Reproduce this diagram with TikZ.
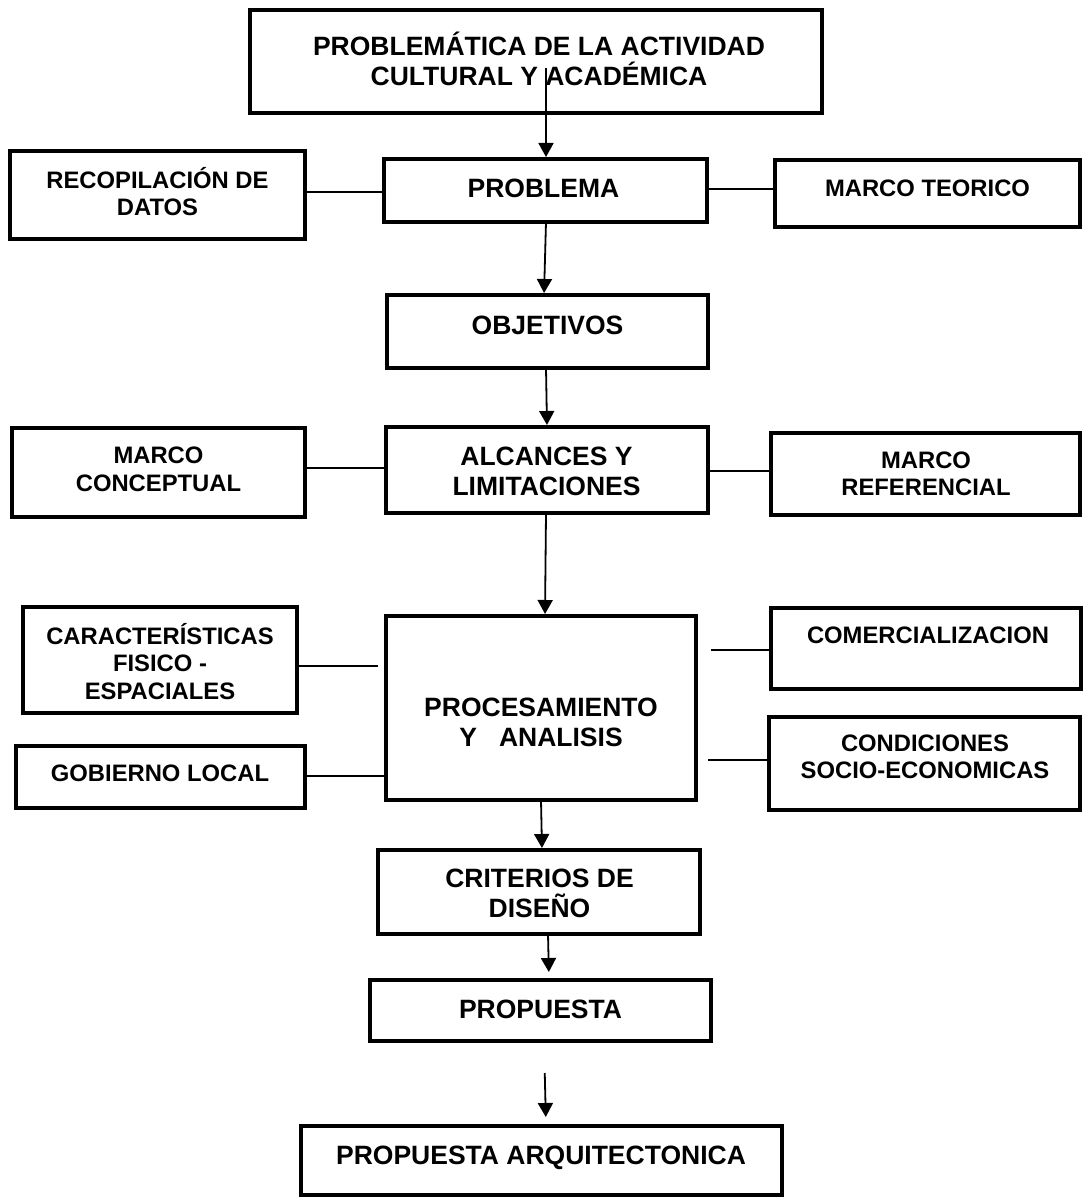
\documentclass[tikz,border=0pt]{standalone}
\usepackage{fontspec}
\setmainfont{Liberation Sans}
\usetikzlibrary{arrows.meta}

\tikzset{
  box/.style={draw, line width=4.3pt, inner sep=0pt, outer sep=0pt, line join=miter},
  bigtxt/.style={font=\fontsize{26.5}{30}\selectfont\bfseries, align=center, inner sep=0pt},
  smalltxt/.style={font=\fontsize{23.8}{27.5}\selectfont\bfseries, align=center, inner sep=0pt},
  arr/.style={line width=1.8pt, -{Triangle[width=15pt,length=14pt]}},
  link/.style={line width=1.8pt},
}

\begin{document}
\begin{tikzpicture}[x=1pt, y=-1pt]
  \lineskiplimit=-40pt
  \lineskip=0pt
  \fill[white] (0,0) rectangle (1083,1198);
  \useasboundingbox (0,0) rectangle (1083,1198);

  % frames
  \node[box, minimum width=572pt, minimum height=103pt] (top)  at (536,61.5)   {};
  \node[box, minimum width=295pt, minimum height=88pt]  (recop) at (157.5,195) {};
  \node[box, minimum width=323pt, minimum height=63pt]  (prob) at (545.5,190.5) {};
  \node[box, minimum width=305pt, minimum height=67pt]  (mteo) at (927.5,193.5) {};
  \node[box, minimum width=321pt, minimum height=73pt]  (obj)  at (547.5,331.5) {};
  \node[box, minimum width=293pt, minimum height=89pt]  (mcon) at (158.5,472.5) {};
  \node[box, minimum width=322pt, minimum height=86pt]  (alc)  at (547,470)     {};
  \node[box, minimum width=309pt, minimum height=82pt]  (mref) at (925.5,474)   {};
  \node[box, minimum width=274pt, minimum height=106pt] (cara) at (160,660)     {};
  \node[box, minimum width=310pt, minimum height=184pt] (proc) at (541,708)     {};
  \node[box, minimum width=289pt, minimum height=62pt]  (gob)  at (160.5,777)   {};
  \node[box, minimum width=310pt, minimum height=81pt]  (com)  at (926,648.5)   {};
  \node[box, minimum width=311pt, minimum height=93pt]  (cond) at (924.5,763.5) {};
  \node[box, minimum width=322pt, minimum height=84pt]  (crit) at (539,892)     {};
  \node[box, minimum width=341pt, minimum height=61pt]  (prop) at (540.5,1010.5) {};
  \node[box, minimum width=481pt, minimum height=69pt]  (parq) at (541.5,1160.5) {};

  % labels
  \node[bigtxt]   (topT)  at (539,63)     {\strut PROBLEMÁTICA DE LA ACTIVIDAD\\\strut CULTURAL Y ACADÉMICA};
  \node[smalltxt] (recopT) at (157.5,195.5) {\strut RECOPILACIÓN DE\\\strut DATOS};
  \node[bigtxt]   (probT) at (543.5,191.5) {\strut PROBLEMA};
  \node[smalltxt] (mteoT) at (927.5,191)   {\strut MARCO TEORICO};
  \node[bigtxt]   (objT)  at (547.5,328.5) {\strut OBJETIVOS};
  \node[smalltxt] (mconT) at (158.5,472)   {\strut MARCO\\\strut CONCEPTUAL};
  \node[bigtxt]   (alcT)  at (546.5,474.5) {\strut ALCANCES Y\\\strut LIMITACIONES};
  \node[smalltxt] (mrefT) at (926,476.5)   {\strut MARCO\\\strut REFERENCIAL};
  \node[smalltxt] (caraT) at (160,665.5)   {\strut CARACTERÍSTICAS\\\strut FISICO -\\\strut ESPACIALES};
  \node[bigtxt]   (procT) at (541,725.5)   {\strut PROCESAMIENTO\\\strut Y\ \ \ ANALISIS};
  \node[smalltxt] (gobT)  at (160,776)     {\strut GOBIERNO LOCAL};
  \node[smalltxt] (comT)  at (928,638)     {\strut COMERCIALIZACION};
  \node[smalltxt] (condT) at (925,759.5)   {\strut CONDICIONES\\\strut SOCIO-ECONOMICAS};
  \node[bigtxt]   (critT) at (539.5,896.5) {\strut CRITERIOS DE\\\strut DISEÑO};
  \node[bigtxt]   (propT) at (540.5,1012.5) {\strut PROPUESTA};
  \node[bigtxt]   (parqT) at (541,1158.5)  {\strut PROPUESTA ARQUITECTONICA};

  % main flow
  \draw[arr, shorten >=2pt] ([xshift=10pt,yshift=-6.5pt]top.center) -- ([xshift=0.5pt]prob.north);
  \draw[arr, shorten >=2pt] ([xshift=0.5pt]prob.south) -- ([xshift=-3.5pt]obj.north);
  \draw[arr, shorten >=2pt] ([xshift=-1.5pt]obj.south) -- (alc.north);
  \draw[arr, shorten >=2pt] ([xshift=-1pt]alc.south) -- ([xshift=4pt]proc.north);
  \draw[arr, shorten >=2pt] (proc.south) -- ([xshift=3pt]crit.north);
  \draw[arr, shorten >=8pt] ([xshift=9pt]crit.south) -- ([xshift=8.5pt]prop.north);
  \draw[arr, shorten <=32pt, shorten >=9pt] ([xshift=3.5pt]prop.south) -- ([xshift=4.5pt]parq.north);

  % side links
  \draw[link] ([yshift=3pt]recop.east) -- ([yshift=-1.5pt]prob.west);
  \draw[link] ([yshift=1.5pt]prob.east) -- ([yshift=4.5pt]mteo.west);
  \draw[link] ([yshift=4.5pt]mcon.east) -- ([yshift=2pt]alc.west);
  \draw[link] ([yshift=-1pt]alc.east) -- ([yshift=3pt]mref.west);
  \draw[link] ([yshift=-6pt]cara.east) -- ([xshift=-8pt,yshift=42pt]proc.west);
  \draw[link] ([yshift=1pt]gob.east) -- ([yshift=-68pt]proc.west);
  \draw[link] ([xshift=15pt,yshift=58pt]proc.east) -- ([yshift=-1.5pt]com.west);
  \draw[link] ([xshift=12pt,yshift=-52pt]proc.east) -- ([yshift=3.5pt]cond.west);
\end{tikzpicture}
\end{document}
